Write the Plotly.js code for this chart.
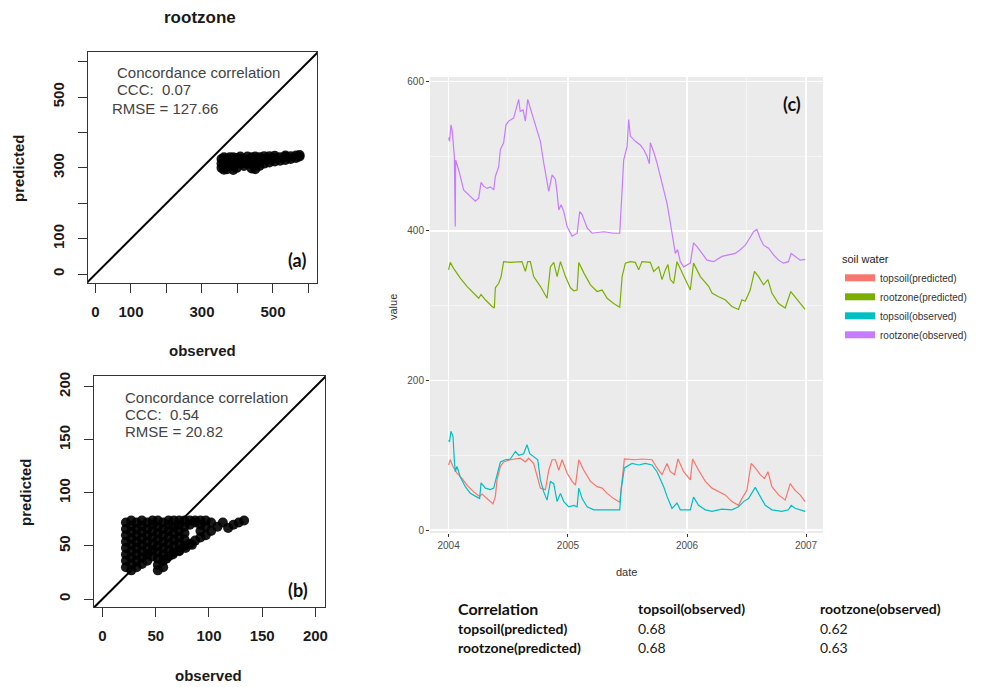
<!DOCTYPE html>
<html><head><meta charset="utf-8">
<script src="https://cdn.plot.ly/plotly-3.0.1.min.js"></script>
<style>html,body{margin:0;padding:0;background:#fff;}#chart{width:981px;height:687px;}</style>
</head><body><div id="chart"></div>
<script>
// ---------- panel (a): rootzone observed vs predicted ----------
const aObserved = [355,355,355, 362,362,362,362, 370,370,370, 378,378,378, 388,388,388,388, 398,398,398, 408,408,408, 418,418,418, 428,428,428, 440,440,440,440, 450,450,450,450, 462,462,462, 475,475,475, 490,490,490, 505,505,505, 520,520, 535,535,535, 550,550, 565,565, 575,575];
const aPredicted = [300,312,325, 295,308,320,330, 296,310,325, 305,315,330, 294,305,318,330, 300,315,328, 312,325,332, 305,314,325, 312,322,332, 298,310,322,330, 296,308,320,332, 305,318,330, 312,325,333, 315,326,333, 318,328,334, 320,330, 322,331,335, 325,333, 328,335, 332,336];
// ---------- panel (b): topsoil observed vs predicted ----------
const bObserved = [22,22,22,22,22,22,22,22, 27,27,27,27,27,27,27,27,27, 32,32,32,32,32,32,32,32, 37,37,37,37,37,37,37,37, 42,42,42,42,42,42,42, 47,47,47,47,47,47,47, 52,52,52,52,52,52,52,52,52, 57,57,57,57,57,57,57,57, 62,62,62,62,62,62,62, 67,67,67,67,67,67, 72,72,72,72,72,72, 77,77,77,77,77, 82,82,82, 87,87,87, 92,92,92,92, 97,97,97, 102,102, 60,66,72,78,84, 108,113,118,123,128,133];
const bPredicted = [30,36,42,48,54,60,66,72, 27,33,39,45,51,57,63,69,74, 30,36,42,48,54,60,66,72, 33,39,45,51,57,63,69,74, 36,42,48,54,60,66,72, 40,46,52,58,64,70,74, 27,32,38,44,50,56,62,68,74, 30,36,42,48,54,60,66,72, 40,46,52,58,64,70,74, 44,50,56,62,68,74, 46,52,58,64,70,74, 50,56,62,68,74, 52,70,74, 55,72,74, 58,64,70,74, 60,68,74, 64,72, 38,42,45,48,51, 68,72,67,70,72,74];
const identityLine = [-100, 1000];
const cccA = ['Concordance correlation', 'CCC:  0.07', 'RMSE = 127.66'];
const cccB = ['Concordance correlation', 'CCC:  0.54', 'RMSE = 20.82'];

// ---------- panel (c): time series (decimal year, value) ----------
const rzObsT = [2004.000,2004.008,2004.020,2004.030,2004.048,2004.056,2004.059,2004.084,2004.126,2004.168,
 2004.224,2004.252,2004.272,2004.294,2004.322,2004.350,2004.378,2004.392,2004.420,2004.434,
 2004.461,2004.481,2004.503,2004.545,2004.560,2004.587,2004.600,2004.624,2004.643,2004.663,
 2004.685,2004.713,2004.741,2004.769,2004.797,2004.820,2004.839,2004.867,2004.895,2004.909,
 2004.923,2004.943,2004.965,2004.993,2005.035,2005.077,2005.099,2005.119,2005.161,2005.203,
 2005.300,2005.384,2005.435,2005.455,2005.468,2005.497,2005.510,2005.524,2005.566,2005.608,
 2005.636,2005.664,2005.684,2005.692,2005.720,2005.748,2005.776,2005.804,2005.832,2005.860,
 2005.888,2005.902,2005.921,2005.944,2005.972,2006.028,2006.055,2006.084,2006.126,2006.168,
 2006.223,2006.294,2006.349,2006.405,2006.447,2006.489,2006.517,2006.559,2006.587,2006.615,
 2006.643,2006.685,2006.727,2006.769,2006.810,2006.852,2006.875,2006.908,2006.950,2006.992];
const rzObsV = [525,520,542,535,500,406,495,482,455,448,
 440,444,465,460,457,459,455,473,486,509,
 518,542,547,551,560,576,560,562,547,576,
 564,549,535,520,491,469,453,475,469,451,
 428,435,426,406,393,397,426,422,404,397,
 399,397,397,455,495,513,549,527,520,515,
 509,500,490,518,506,491,473,455,437,411,
 379,370,375,359,352,357,384,379,370,361,
 359,366,368,370,375,381,388,399,402,390,
 381,377,368,361,357,359,370,366,361,362];

const rzPredT = [2004.000,2004.014,2004.042,2004.098,2004.154,2004.210,2004.252,2004.272,2004.308,2004.364,
 2004.383,2004.392,2004.420,2004.440,2004.461,2004.517,2004.573,2004.615,2004.643,2004.663,
 2004.685,2004.713,2004.769,2004.825,2004.853,2004.881,2004.909,2004.937,2004.979,2005.021,
 2005.049,2005.077,2005.091,2005.133,2005.189,2005.245,2005.287,2005.329,2005.384,2005.435,
 2005.455,2005.482,2005.524,2005.566,2005.594,2005.622,2005.692,2005.720,2005.762,2005.790,
 2005.818,2005.840,2005.860,2005.888,2005.916,2005.972,2006.028,2006.055,2006.112,2006.182,
 2006.210,2006.265,2006.321,2006.377,2006.433,2006.461,2006.489,2006.531,2006.567,2006.601,
 2006.643,2006.680,2006.713,2006.769,2006.825,2006.872,2006.908,2006.950,2006.992];
const rzPredV = [348,358,350,337,326,317,310,315,308,299,
 297,324,330,339,359,358,358,359,346,359,
 359,339,326,310,352,358,339,359,339,324,
 320,321,358,344,328,319,321,310,303,298,
 339,357,359,358,348,359,358,346,352,335,
 348,355,335,330,359,339,321,357,339,326,
 317,312,308,299,295,308,306,321,346,339,
 328,335,317,303,297,319,312,303,295];

const tsPredT = [2004.000,2004.014,2004.037,2004.070,2004.112,2004.154,2004.210,2004.260,2004.280,2004.322,
 2004.372,2004.392,2004.406,2004.434,2004.461,2004.517,2004.600,2004.643,2004.671,2004.713,
 2004.741,2004.769,2004.811,2004.839,2004.867,2004.895,2004.923,2004.951,2004.993,2005.035,
 2005.063,2005.091,2005.133,2005.189,2005.245,2005.287,2005.329,2005.384,2005.435,2005.455,
 2005.474,2005.566,2005.622,2005.706,2005.748,2005.790,2005.832,2005.860,2005.896,2005.924,
 2005.972,2006.028,2006.047,2006.097,2006.154,2006.210,2006.265,2006.321,2006.377,2006.433,
 2006.461,2006.503,2006.539,2006.573,2006.615,2006.651,2006.680,2006.713,2006.769,2006.825,
 2006.867,2006.908,2006.950,2006.992];
const tsPredV = [87,94,85,76,69,60,51,45,48,42,
 35,45,67,85,91,94,96,91,96,89,
 74,56,54,80,94,94,80,94,76,65,
 60,94,80,65,58,56,49,42,37,71,
 95,94,95,94,83,74,89,78,74,95,
 78,67,95,80,65,56,51,47,38,33,
 42,53,89,83,74,69,78,58,47,40,
 62,53,47,38];

const tsObsT = [2004.000,2004.008,2004.020,2004.037,2004.048,2004.056,2004.070,2004.098,2004.140,2004.182,
 2004.238,2004.260,2004.272,2004.308,2004.350,2004.378,2004.392,2004.411,2004.434,2004.475,
 2004.517,2004.560,2004.587,2004.629,2004.657,2004.680,2004.713,2004.747,2004.769,2004.797,
 2004.825,2004.853,2004.881,2004.909,2004.937,2004.965,2005.007,2005.049,2005.077,2005.091,
 2005.119,2005.161,2005.217,2005.329,2005.435,2005.447,2005.474,2005.538,2005.594,2005.650,
 2005.706,2005.748,2005.776,2005.804,2005.832,2005.874,2005.916,2005.944,2006.028,2006.055,
 2006.097,2006.154,2006.210,2006.294,2006.377,2006.433,2006.475,2006.517,2006.573,2006.615,
 2006.657,2006.713,2006.797,2006.852,2006.875,2006.908,2006.992];
const tsObsV = [120,118,132,125,94,78,85,71,58,49,
 44,42,63,56,54,56,65,76,91,94,
 95,105,100,102,114,102,98,94,67,51,
 40,65,62,38,49,38,31,33,31,56,
 42,31,27,27,27,54,83,89,87,89,
 87,78,69,58,45,29,36,27,27,44,
 33,27,25,28,27,31,38,42,57,45,
 33,27,25,27,33,29,25];

const seriesNames = ['topsoil(predicted)', 'rootzone(predicted)', 'topsoil(observed)', 'rootzone(observed)'];
const seriesColors = ['#F8766D', '#7CAE00', '#00BFC4', '#C77CFF'];
const yTicksC = [0, 200, 400, 600];

// ---------- correlation table ----------
const corrHeader = ['Correlation', 'topsoil(observed)', 'rootzone(observed)'];
const corrRowLabels = ['topsoil(predicted)', 'rootzone(predicted)'];
const corrValues = [['0.68', '0.62'], ['0.68', '0.63']];

// ---------- helpers ----------
const W = 981, H = 687;
const px = v => v / W;
const py = v => 1 - v / H;
function toDate(t) {
  const y = Math.floor(t);
  const s = Date.UTC(y, 0, 1), e = Date.UTC(y + 1, 0, 1);
  return new Date(s + (t - y) * (e - s)).toISOString().slice(0, 19);
}
const dates = arr => arr.map(toDate);

const ptsColor = 'rgba(0,0,0,0.9)';
const traces = [
  {x: aObserved, y: aPredicted, xaxis: 'x', yaxis: 'y', type: 'scatter', mode: 'markers',
   marker: {size: 10, color: ptsColor, line: {width: 0}}, showlegend: false, hoverinfo: 'skip'},
  {x: identityLine, y: identityLine, xaxis: 'x', yaxis: 'y', type: 'scatter', mode: 'lines',
   line: {color: '#000', width: 2}, showlegend: false, hoverinfo: 'skip'},
  {x: bObserved, y: bPredicted, xaxis: 'x2', yaxis: 'y2', type: 'scatter', mode: 'markers',
   marker: {size: 10, color: ptsColor, line: {width: 0}}, showlegend: false, hoverinfo: 'skip'},
  {x: identityLine, y: identityLine, xaxis: 'x2', yaxis: 'y2', type: 'scatter', mode: 'lines',
   line: {color: '#000', width: 2}, showlegend: false, hoverinfo: 'skip'}
];
const tsX = [tsPredT, rzPredT, tsObsT, rzObsT];
const tsY = [tsPredV, rzPredV, tsObsV, rzObsV];
for (let i = 0; i < 4; i++) {
  traces.push({x: dates(tsX[i]), y: tsY[i], xaxis: 'x3', yaxis: 'y3', type: 'scatter', mode: 'lines',
    line: {color: seriesColors[i], width: 1.2}, name: seriesNames[i], showlegend: false});
}
for (let i = 0; i < 4; i++) {
  traces.push({x: [null], y: [null], xaxis: 'x3', yaxis: 'y3', type: 'scatter', mode: 'lines',
    line: {color: seriesColors[i], width: 7}, name: seriesNames[i], showlegend: true});
}

const rFont = {family: 'Liberation Sans, Arial, sans-serif', size: 15, color: '#1a1a1a', weight: 'bold'};
function rAxis(dom, range, tickvals, ticktext, isY, anchor) {
  const ax = {domain: dom, range: range, anchor: anchor, showline: true, mirror: true, linecolor: '#333',
    linewidth: 1, ticks: 'outside', ticklen: 9, tickcolor: '#333', tickwidth: 1, tickvals: tickvals,
    ticktext: ticktext, tickfont: rFont, showgrid: false, zeroline: false, ticklabelstandoff: 6};
  if (isY) { ax.tickangle = -90; ax.ticklabelstandoff = 8; }
  return ax;
}
const aTicks = [0, 100, 200, 300, 400, 500, 600];
const aTickText = ['0', '100', '', '300', '', '500', ''];
const bTicks = [0, 50, 100, 150, 200];
const bTickText = ['0', '50', '100', '150', '200'];

const ann = [];
function addText(text, x, y, font, opts) {
  ann.push(Object.assign({text: text, x: px(x), y: py(y), xref: 'paper', yref: 'paper', showarrow: false,
    font: font, xanchor: 'center', yanchor: 'middle'}, opts || {}));
}
const titleFont = {family: 'Liberation Sans, Arial, sans-serif', size: 17, color: '#1a1a1a', weight: 'bold'};
const labFont = {family: 'Liberation Sans, Arial, sans-serif', size: 15, color: '#1a1a1a', weight: 'bold'};
const cccFont = {family: 'Liberation Sans, Arial, sans-serif', size: 15, color: '#444'};
const tagFont = {family: 'Lato, Open Sans, sans-serif', size: 18, color: '#111', weight: 'bold'};
addText('rootzone', 200, 17, titleFont);
addText('observed', 202, 350, labFont);
addText('predicted', 18, 168, labFont, {textangle: -90});
addText('observed', 208, 675, labFont);
addText('predicted', 25, 492, labFont, {textangle: -90});
addText(cccA[0], 115, 73, cccFont, {xanchor: 'left'});
addText(cccA[1], 115, 90, cccFont, {xanchor: 'left'});
addText(cccA[2], 110, 108, cccFont, {xanchor: 'left'});
addText(cccB[0], 123, 397, cccFont, {xanchor: 'left'});
addText(cccB[1], 123, 414, cccFont, {xanchor: 'left'});
addText(cccB[2], 123, 431, cccFont, {xanchor: 'left'});
addText('(a)', 297, 260, tagFont);
addText('(b)', 298, 590, tagFont);
addText('(c)', 792, 104, tagFont);
const ggFont = {family: 'Liberation Sans, Arial, sans-serif', size: 11, color: '#333'};
addText('value', 393, 307, ggFont, {textangle: -90});
addText('date', 626, 572, ggFont);
const tabBold = {family: 'Lato, Open Sans, sans-serif', size: 14, color: '#111', weight: 'bold'};
const tabBig = {family: 'Lato, Open Sans, sans-serif', size: 16, color: '#111', weight: 'bold'};
const tabNorm = {family: 'Lato, Open Sans, sans-serif', size: 14, color: '#222'};
const colX = [456, 636, 818];
const rowY = [608, 628, 647];
addText(corrHeader[0], colX[0], rowY[0], tabBig, {xanchor: 'left'});
addText(corrHeader[1], colX[1], rowY[0], tabBold, {xanchor: 'left'});
addText(corrHeader[2], colX[2], rowY[0], tabBold, {xanchor: 'left'});
for (let r = 0; r < 2; r++) {
  addText(corrRowLabels[r], colX[0], rowY[r + 1], tabBold, {xanchor: 'left'});
  addText(corrValues[r][0], colX[1], rowY[r + 1], tabNorm, {xanchor: 'left'});
  addText(corrValues[r][1], colX[2], rowY[r + 1], tabNorm, {xanchor: 'left'});
}

const layout = {
  width: W, height: H, margin: {l: 0, r: 0, t: 0, b: 0}, paper_bgcolor: '#fff', plot_bgcolor: 'rgba(0,0,0,0)',
  xaxis: rAxis([px(88), px(317)], [-21, 624], aTicks, aTickText, false, 'y'),
  yaxis: rAxis([py(283), py(52)], [-25, 627], aTicks, aTickText, true, 'x'),
  xaxis2: rAxis([px(94), px(325)], [-8, 209], bTicks, bTickText, false, 'y2'),
  yaxis2: rAxis([py(607), py(376)], [-7.5, 210], bTicks, bTickText, true, 'x2'),
  xaxis3: {domain: [px(430), px(823)], anchor: 'y3', type: 'date', range: ['2003-11-05', '2007-02-22'],
    tick0: '2004-01-01', dtick: 'M12', tickformat: '%Y', showgrid: true, gridcolor: '#fff', gridwidth: 1.1,
    minor: {dtick: 'M6', tick0: '2004-01-01', showgrid: true, gridcolor: '#fff', gridwidth: 0.5},
    ticks: 'outside', ticklen: 3, tickcolor: '#333', zeroline: false, showline: false,
    tickfont: {family: 'Liberation Sans, Arial, sans-serif', size: 10, color: '#4d4d4d'}},
  yaxis3: {domain: [py(533), py(77)], anchor: 'x3', range: [-4, 606], tickvals: yTicksC,
    showgrid: true, gridcolor: '#fff', gridwidth: 1.1,
    minor: {dtick: 100, tick0: 0, showgrid: true, gridcolor: '#fff', gridwidth: 0.5},
    ticks: 'outside', ticklen: 3, tickcolor: '#333', zeroline: false, showline: false,
    tickfont: {family: 'Liberation Sans, Arial, sans-serif', size: 10, color: '#4d4d4d'}},
  shapes: [{type: 'rect', xref: 'x3 domain', yref: 'y3 domain', x0: 0, x1: 1, y0: 0, y1: 1,
    fillcolor: '#EBEBEB', line: {width: 0}, layer: 'below'}],
  legend: {x: px(840), y: py(249), xanchor: 'left', yanchor: 'top', bgcolor: 'rgba(0,0,0,0)',
    title: {text: 'soil water', font: {family: 'Liberation Sans, Arial, sans-serif', size: 11, color: '#222'}},
    font: {family: 'Liberation Sans, Arial, sans-serif', size: 10, color: '#333'}, itemwidth: 30, tracegroupgap: 0},
  annotations: ann,
  showlegend: true
};
Plotly.newPlot('chart', traces, layout, {staticPlot: true, displayModeBar: false});
</script></body></html>
